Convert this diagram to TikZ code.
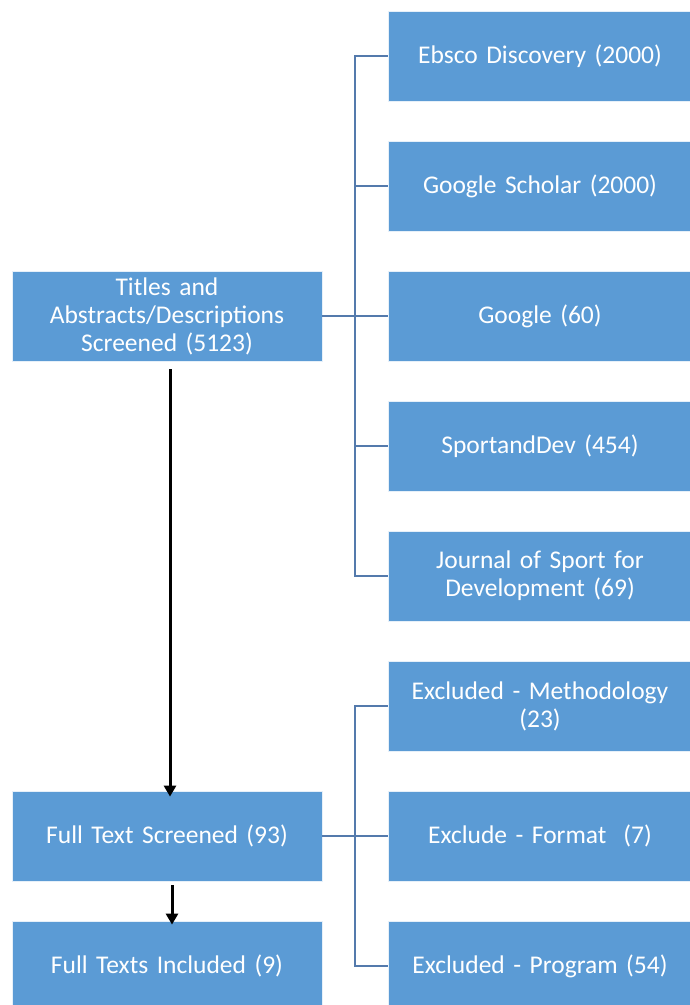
\documentclass[tikz,border=0pt]{standalone}
\usepackage{fontspec}
\setmainfont{Carlito}
\usetikzlibrary{arrows.meta}

\definecolor{boxblue}{RGB}{91,155,213}
\definecolor{linkblue}{RGB}{84,122,172}

\tikzset{
  box/.style={rectangle,fill=boxblue,draw=white!85!boxblue,line width=0.8pt,
    text=white,align=center,font=\fontsize{25.5}{28}\selectfont,
    minimum height=90pt,inner sep=2pt},
  leftbox/.style={box,minimum width=310pt,text width=304pt},
  rightbox/.style={box,minimum width=304pt,text width=300pt},
  link/.style={draw=linkblue,line width=1.6pt},
  arr/.style={draw=black,line width=3pt,-{Triangle[length=11pt,width=12pt]}}
}

\begin{document}
\begin{tikzpicture}[x=1pt,y=-1pt]
            \useasboundingbox (0,0) rectangle (690,1005);

            \node[leftbox] (titles) at (167, 316) {Titles and\\Abstracts/Descriptions\\Screened (5123)};
            \node[leftbox] (fulltext) at (167, 836) {Full Text Screened (93)};
            \node[leftbox] (included) at (167, 966) {Full Texts Included (9)};

            \node[rightbox] (ebsco) at (540, 56) {Ebsco Discovery (2000)};
            \node[rightbox] (scholar) at (540, 186) {Google Scholar (2000)};
            \node[rightbox] (google) at (540, 316) {Google (60)};
            \node[rightbox] (sportdev) at (540, 446) {SportandDev (454)};
            \node[rightbox] (journal) at (540, 576) {Journal of Sport for\\Development (69)};

            \node[rightbox] (method) at (540, 706) {Excluded - Methodology\\(23)};
            \node[rightbox] (format) at (540, 836) {Exclude - Format~ (7)};
            \node[rightbox] (program) at (540, 966) {Excluded - Program (54)};

            \coordinate (bus) at (355, 0);

            % sources
            \draw[link] (ebsco.west) -| (bus |- journal.west) -- (journal.west);
            \draw[link] (scholar.west) -- (scholar.west -| bus);
            \draw[link] (sportdev.west) -- (sportdev.west -| bus);
            \draw[link] (titles.east) -- (google.west);

            % exclusions
            \draw[link] (method.west) -| (bus |- program.west) -- (program.west);
            \draw[link] (fulltext.east) -- (format.west);

            % flow
            \draw[arr] ([xshift=3pt,yshift=-8pt]titles.south) -- ([xshift=3pt,yshift=-6pt]fulltext.north);
            \draw[arr] ([xshift=5pt,yshift=-4pt]fulltext.south) -- ([xshift=5pt,yshift=-4pt]included.north);
          \end{tikzpicture}
\end{document}
